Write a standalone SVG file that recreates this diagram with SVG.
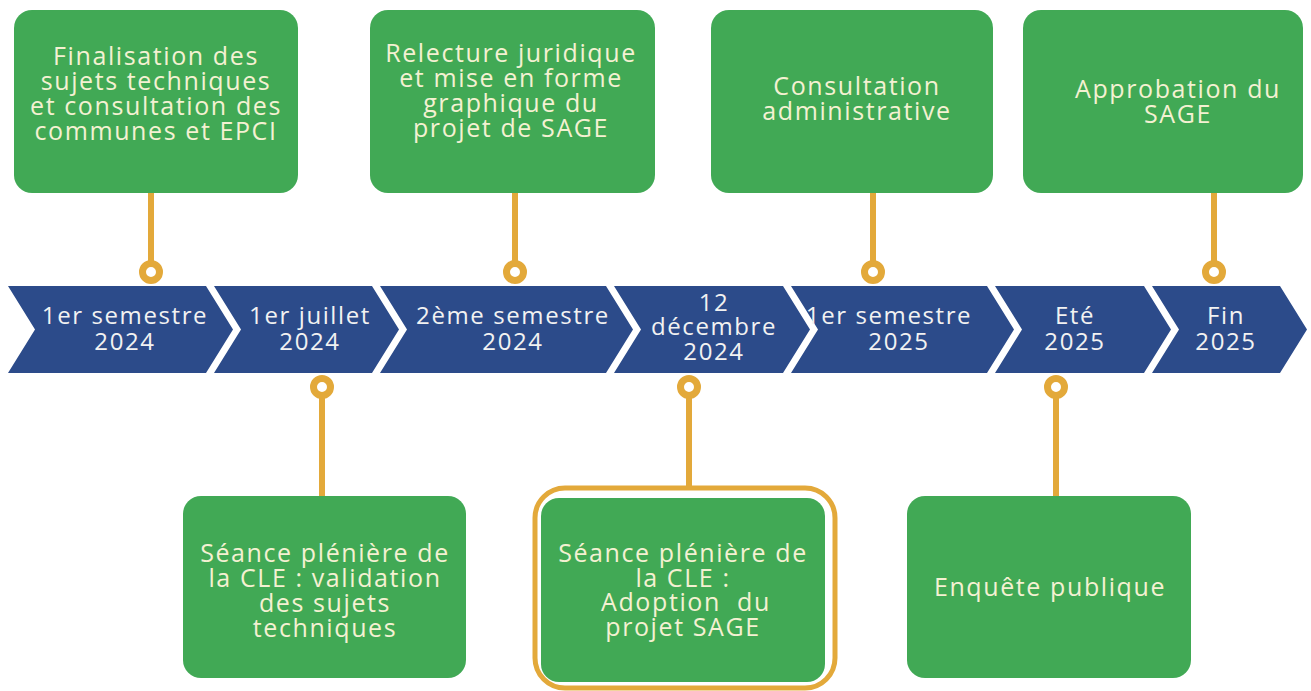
<svg xmlns="http://www.w3.org/2000/svg" width="1311" height="691" viewBox="0 0 1311 691">
<style>
.box{fill:#41A955}
.chev{fill:#2C4B8A}
.bt{font-family:"Open Sans","DejaVu Sans",sans-serif;font-size:25px;letter-spacing:1.6px;fill:#F4F1D2;text-anchor:middle}
.ct{font-family:"Open Sans","DejaVu Sans",sans-serif;font-size:24px;letter-spacing:1.6px;fill:#F2F2F2;text-anchor:middle}
.ln{stroke:#E3A93A;stroke-width:6;fill:none}
.ring{stroke:#E3A93A;stroke-width:7;fill:#FFFFFF}
</style>
<rect width="1311" height="691" fill="#FFFFFF"/>
<g id="connectors">
<line class="ln" x1="151" y1="193" x2="151" y2="265"/>
<line class="ln" x1="515" y1="193" x2="515" y2="265"/>
<line class="ln" x1="873" y1="193" x2="873" y2="265"/>
<line class="ln" x1="1214" y1="193" x2="1214" y2="265"/>
<circle class="ring" cx="151" cy="272" r="8.5"/>
<circle class="ring" cx="515" cy="272" r="8.5"/>
<circle class="ring" cx="873" cy="272" r="8.5"/>
<circle class="ring" cx="1214" cy="272" r="8.5"/>
<line class="ln" x1="322" y1="394" x2="322" y2="497"/>
<line class="ln" x1="689" y1="394" x2="689" y2="489"/>
<line class="ln" x1="1056" y1="394" x2="1056" y2="497"/>
<circle class="ring" cx="322" cy="387" r="8.5"/>
<circle class="ring" cx="689" cy="387" r="8.5"/>
<circle class="ring" cx="1056" cy="387" r="8.5"/>
</g>
<g id="chev1"><polygon class="chev" points="8,286 206,286 233,329.5 206,373 8,373 35,329.5"/>
<text class="ct" x="125" y="324">1er semestre</text><text class="ct" x="125" y="350">2024</text></g>
<g id="chev2"><polygon class="chev" points="214,286 372,286 399,329.5 372,373 214,373 241,329.5"/>
<text class="ct" x="310" y="324">1er juillet</text><text class="ct" x="310" y="350">2024</text></g>
<g id="chev3"><polygon class="chev" points="380,286 606,286 633,329.5 606,373 380,373 407,329.5"/>
<text class="ct" x="513" y="324">2ème semestre</text><text class="ct" x="513" y="350">2024</text></g>
<g id="chev4"><polygon class="chev" points="614,286 783,286 810,329.5 783,373 614,373 641,329.5"/>
<text class="ct" x="714" y="311">12</text><text class="ct" x="714" y="335">décembre</text><text class="ct" x="714" y="360">2024</text></g>
<g id="chev5"><polygon class="chev" points="791,286 987,286 1014,329.5 987,373 791,373 818,329.5"/>
<text class="ct" x="889" y="324">1er semestre</text><text class="ct" x="899" y="350">2025</text></g>
<g id="chev6"><polygon class="chev" points="995,286 1144,286 1171,329.5 1144,373 995,373 1022,329.5"/>
<text class="ct" x="1075" y="324">Eté</text><text class="ct" x="1075" y="350">2025</text></g>
<g id="chev7"><polygon class="chev" points="1152,286 1280,286 1307,329.5 1280,373 1152,373 1179,329.5"/>
<text class="ct" x="1226" y="324">Fin</text><text class="ct" x="1226" y="350">2025</text></g>
<g id="box1"><rect class="box" x="14" y="10" width="284" height="183" rx="18"/>
<text class="bt" x="156" y="65">Finalisation des</text><text class="bt" x="156" y="90">sujets techniques</text><text class="bt" x="156" y="115">et consultation des</text><text class="bt" x="156" y="140">communes et EPCI</text></g>
<g id="box2"><rect class="box" x="370" y="10" width="285" height="183" rx="18"/>
<text class="bt" x="511" y="62">Relecture juridique</text><text class="bt" x="511" y="87">et mise en forme</text><text class="bt" x="511" y="112">graphique du</text><text class="bt" x="511" y="137">projet de SAGE</text></g>
<g id="box3"><rect class="box" x="711" y="10" width="282" height="183" rx="18"/>
<text class="bt" x="857" y="95">Consultation</text><text class="bt" x="857" y="120">administrative</text></g>
<g id="box4"><rect class="box" x="1023" y="10" width="280" height="183" rx="18"/>
<text class="bt" x="1178" y="98">Approbation du</text><text class="bt" x="1178" y="123">SAGE</text></g>
<g id="box5"><rect class="box" x="183" y="496" width="283" height="182" rx="18"/>
<text class="bt" x="325" y="562">Séance plénière de</text><text class="bt" x="325" y="587">la CLE : validation</text><text class="bt" x="325" y="612">des sujets</text><text class="bt" x="325" y="637">techniques</text></g>
<g id="box6"><rect x="535" y="488" width="300" height="200" rx="30" fill="none" stroke="#E3A93A" stroke-width="5"/>
<rect class="box" x="541" y="498" width="284" height="184" rx="18"/>
<text class="bt" x="683" y="562">Séance plénière de</text><text class="bt" x="683" y="587">la CLE :</text><text class="bt" x="686" y="611" xml:space="preserve">Adoption  du</text><text class="bt" x="683" y="636">projet SAGE</text></g>
<g id="box7"><rect class="box" x="907" y="496" width="284" height="182" rx="18"/>
<text class="bt" x="1050" y="596">Enquête publique</text></g>
</svg>
